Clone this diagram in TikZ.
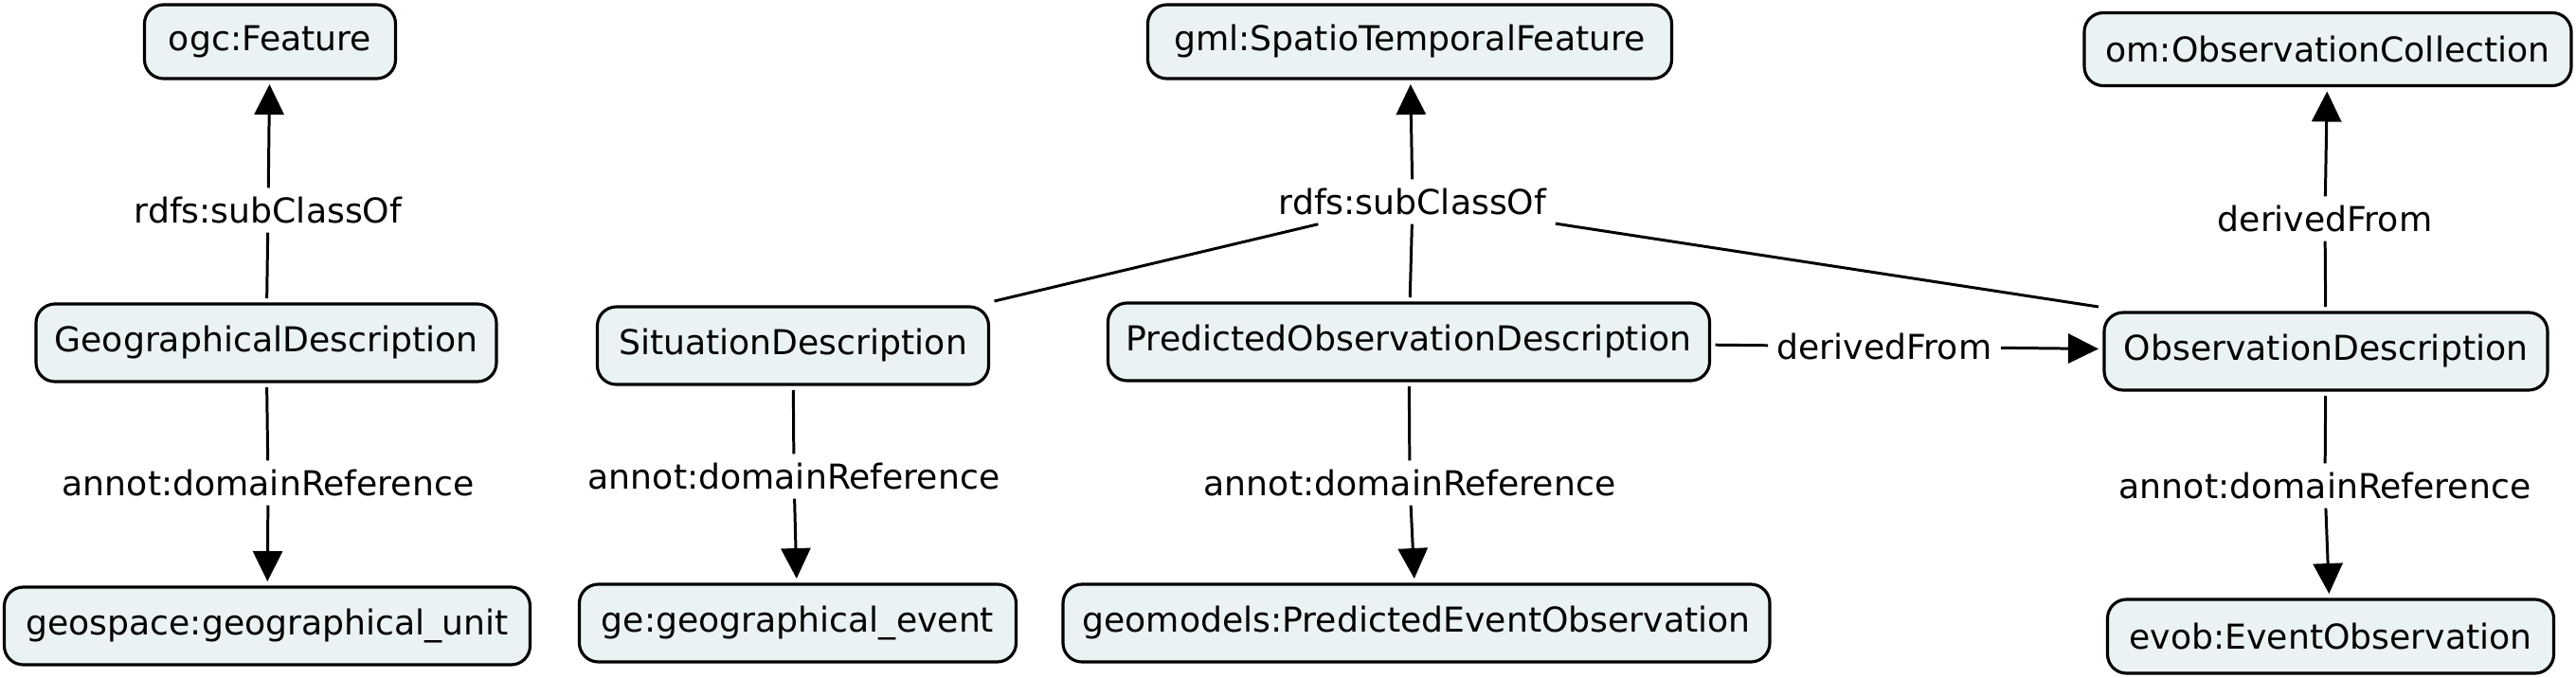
\documentclass[tikz,border=0pt]{standalone}
\usepackage{fontspec}
\setmainfont{DejaVu Sans}
\usepackage{tikz}
\usetikzlibrary{arrows.meta}
\usepackage{xcolor}
\definecolor{boxfill}{RGB}{235,242,244}

\begin{document}
\begin{tikzpicture}[>={Triangle[length=3.2mm,width=3.1mm]},
  font=\fontsize{10.3}{12}\selectfont,
  cls/.style={draw,line width=0.9pt,rounded corners=2mm,fill=boxfill,minimum height=0.82cm,outer sep=0.06cm,inner sep=0pt},
  rel/.style={line width=0.85pt},
  lbl/.style={inner sep=0.09cm}]
\useasboundingbox (0,0) rectangle (27.19,7.15);
% classes
\node[cls,minimum width=2.65cm,minimum height=0.78cm] (ogc) at (2.85,6.71) {ogc:Feature};
\node[cls,minimum width=5.53cm,minimum height=0.78cm] (gml) at (14.88,6.71) {gml:SpatioTemporalFeature};
\node[cls,minimum width=5.14cm,minimum height=0.77cm] (om) at (24.57,6.63) {om:ObservationCollection};
\node[cls,minimum width=4.86cm] (GD) at (2.81,3.53) {GeographicalDescription};
\node[cls,minimum width=4.13cm] (SD) at (8.37,3.50) {SituationDescription};
\node[cls,minimum width=6.35cm] (POD) at (14.87,3.54) {PredictedObservationDescription};
\node[cls,minimum width=4.68cm] (OD) at (24.55,3.44) {ObservationDescription};
\node[cls,minimum width=5.55cm] (geospace) at (2.82,0.54) {geospace:geographical\_unit};
\node[cls,minimum width=4.61cm] (ge) at (8.42,0.57) {ge:geographical\_event};
\node[cls,minimum width=7.46cm] (geomodels) at (14.95,0.57) {geomodels:PredictedEventObservation};
\node[cls,minimum width=4.71cm,minimum height=0.78cm] (evob) at (24.60,0.43) {evob:EventObservation};
% relation labels
\node[lbl] (subL) at (2.83,4.93) {rdfs:subClassOf};
\node[lbl] (domL) at (2.83,2.05) {annot:domainReference};
\node[lbl] (subM) at (14.91,5.02) {rdfs:subClassOf};
\node[lbl] (domS) at (8.38,2.12) {annot:domainReference};
\node[lbl] (domP) at (14.88,2.05) {annot:domainReference};
\node[lbl] (dfH) at (19.89,3.49) {derivedFrom};
\node[lbl] (dfO) at (24.54,4.84) {derivedFrom};
\node[lbl] (domO) at (24.54,2.02) {annot:domainReference};
% left
\draw[rel] (GD) -- (subL);
\draw[rel,->] (subL) -- (ogc);
\draw[rel] (GD) -- (domL);
\draw[rel,->] (domL) -- (geospace);
% middle
\draw[rel] (SD.north east) -- (subM);
\draw[rel] (POD) -- (subM);
\draw[rel] (OD.north west) -- (subM);
\draw[rel,->] (subM) -- (gml);
\draw[rel] (SD) -- (domS);
\draw[rel,->] (domS) -- (ge);
\draw[rel] (POD) -- (domP);
\draw[rel,->] (domP) -- (geomodels);
\draw[rel] (POD) -- (dfH);
\draw[rel,->] (dfH) -- (OD);
% right
\draw[rel] (OD) -- (dfO);
\draw[rel,->] (dfO) -- (om);
\draw[rel] (OD) -- (domO);
\draw[rel,->] (domO) -- (evob);
\end{tikzpicture}
\end{document}
